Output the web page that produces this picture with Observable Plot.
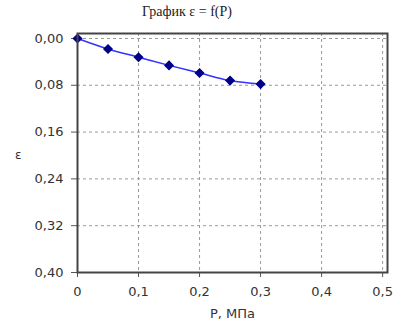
<!DOCTYPE html>
<html>
<head>
<meta charset="utf-8">
<script src="https://cdn.jsdelivr.net/npm/d3@7"></script>
<script src="https://cdn.jsdelivr.net/npm/@observablehq/plot@0.6"></script>
<style>
  html, body { margin: 0; padding: 0; background: #fff; }
  #wrap { position: relative; width: 401px; height: 322px; }
  #title { position: absolute; left: 0; top: 4px; width: 374px; text-align: center;
    font-family: "Liberation Serif", "DejaVu Serif", serif; font-size: 14px; color: #222; }
  #ylab { position: absolute; left: 15px; top: 148px; font-family: "DejaVu Sans", sans-serif; font-size: 12px; color: #333; }
</style>
</head>
<body>
<div id="wrap">
  <div id="title">График ε = f(P)</div>
  <div id="ylab">ε</div>
</div>
<script>
const titleText = "График ε = f(P)";
const pressure = [0, 0.05, 0.1, 0.15, 0.2, 0.25, 0.3];
const strain = [0, 0.018, 0.032, 0.046, 0.059, 0.072, 0.078];
const xTicks = [0, 0.1, 0.2, 0.3, 0.4, 0.5];
const yTicks = [0, 0.08, 0.16, 0.24, 0.32, 0.40];
const xLabel = "P, МПа";

const data = pressure.map((p, i) => ({p, e: strain[i]}));
const fmtX = d => d === 0 ? "0" : d3.format(".1f")(d).replace(".", ",");
const fmtY = d => d3.format(".2f")(d).replace(".", ",");

const chart = Plot.plot({
  width: 401,
  height: 322,
  marginLeft: 77,
  marginRight: 14,
  marginTop: 33,
  marginBottom: 50,
  style: {fontFamily: "'DejaVu Sans', sans-serif", fontSize: "13px", color: "#333", background: "transparent"},
  x: {domain: [0, 0.508], ticks: xTicks, label: null},
  y: {domain: [-0.0085, 0.4], reverse: true, ticks: yTicks, label: null},
  marks: [
    Plot.gridX(xTicks.slice(1), {stroke: "#999", strokeOpacity: 1, strokeDasharray: "3,3"}),
    Plot.gridY(yTicks.slice(0, -1), {stroke: "#999", strokeOpacity: 1, strokeDasharray: "3,3"}),
    Plot.axisX(xTicks, {tickSize: 5, tickPadding: 9, tickFormat: fmtX, stroke: "#555", fill: "#333", fontSize: 13,
      label: xLabel, labelAnchor: "center", labelArrow: "none", labelOffset: 45}),
    Plot.axisY(yTicks, {tickSize: 6, tickPadding: 8, tickFormat: fmtY, stroke: "#555", fill: "#333", fontSize: 13, label: null}),
    Plot.line(data, {x: "p", y: "e", stroke: "#3333ff", strokeWidth: 1.5, curve: "monotone-x"}),
    Plot.dot(data, {x: "p", y: "e", symbol: "diamond2", fill: "#000088", stroke: "#000088", r: 3.6}),
    Plot.frame({stroke: "#444", strokeWidth: 2})
  ]
});
document.getElementById("wrap").prepend(chart);
chart.style.position = "absolute";
chart.style.left = "0";
chart.style.top = "0";
</script>
</body>
</html>
